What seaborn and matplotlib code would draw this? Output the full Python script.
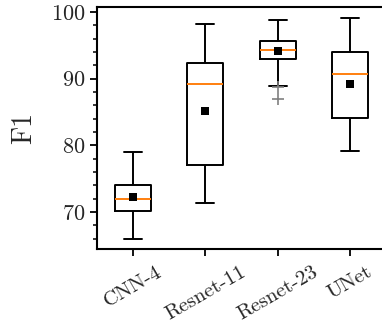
import numpy as np
import pandas as pd
import matplotlib
matplotlib.use("Agg")
import matplotlib.pyplot as plt
from matplotlib.ticker import MultipleLocator
import seaborn as sns

# ---- data ----
models = ["CNN-4", "Resnet-11", "Resnet-23", "UNet"]
whis_low = [66.0, 71.35, 88.95, 79.15]
q1 = [70.15, 77.0, 92.9, 84.15]
median = [71.95, 89.2, 94.35, 90.7]
q3 = [74.0, 92.4, 95.6, 93.95]
whis_high = [79.0, 98.2, 98.75, 99.1]
means = [72.2, 85.1, 94.2, 89.2]
fliers = [[], [], [88.7, 86.9], []]

# build a sample per model whose box statistics reproduce the read values
rows = []
for i, m in enumerate(models):
    if fliers[i]:
        vals = sorted(fliers[i]) + [whis_low[i], q1[i], q1[i], q1[i], median[i],
                                    q3[i], q3[i], q3[i], whis_high[i], whis_high[i], whis_high[i]]
    else:
        vals = [whis_low[i], q1[i], median[i], q3[i], whis_high[i]]
    for v in vals:
        rows.append({"model": m, "F1": v})
df = pd.DataFrame(rows)
mean_df = pd.DataFrame({"model": models, "F1": means})

sns.set_theme(style="ticks")
plt.rcParams["font.family"] = ["cmr10", "DejaVu Serif"]
plt.rcParams["mathtext.fontset"] = "cm"
plt.rcParams["axes.formatter.use_mathtext"] = True
plt.rcParams["axes.unicode_minus"] = False

fig = plt.figure(figsize=(3.82, 3.22), dpi=100)
ax = fig.add_axes([97/382, 1-249/322, 289/382, (249-7)/322])

lw = 1.4
sns.boxplot(data=df, x="model", y="F1", order=models, ax=ax, width=0.5,
            fill=False, color="black", linecolor="black", linewidth=lw,
            whis=1.5,
            medianprops=dict(color="#ff7f0e", linewidth=lw),
            boxprops=dict(color="black", linewidth=lw),
            whiskerprops=dict(color="black", linewidth=lw),
            capprops=dict(color="black", linewidth=lw),
            flierprops=dict(marker="+", markeredgecolor="grey", markersize=8,
                            markeredgewidth=1.2))
sns.scatterplot(data=mean_df, x="model", y="F1", marker="s", color="black",
                s=28, linewidth=0, ax=ax, zorder=5)

ax.set_xlim(-0.5, 3.5)
ax.set_ylim(64.45, 100.75)
ax.yaxis.set_major_locator(MultipleLocator(10))
ax.yaxis.set_minor_locator(MultipleLocator(2))
ax.set_xlabel("")
ax.set_ylabel("F1", fontsize=20, labelpad=10)
ax.tick_params(axis="y", which="major", labelsize=16, length=5, width=1.3,
               direction="out", color="black")
ax.tick_params(axis="x", which="major", labelsize=15, length=5, width=1.3,
               direction="out", color="black", pad=5)
ax.tick_params(axis="y", which="minor", length=3, width=1.3, direction="out")
plt.setp(ax.get_xticklabels(), rotation=30, ha="center")
for s in ax.spines.values():
    s.set_linewidth(1.5)
    s.set_color("black")

fig.savefig("out.png", dpi=100)
